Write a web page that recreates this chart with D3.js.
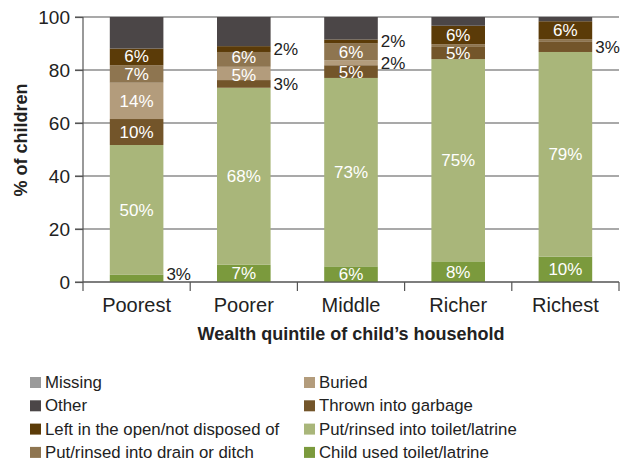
<!DOCTYPE html>
<html>
<head>
<meta charset="utf-8">
<script src="https://cdn.jsdelivr.net/npm/d3@7"></script>
<style>
  body { margin: 0; background: #fff; }
  svg text { font-family: "Liberation Sans", Arial, sans-serif; }
  .grid line { stroke: #555; stroke-width: 1.2; }
  .axis path, .axis line { stroke: #555; stroke-width: 1.2; }
  .axis text { fill: #222; font-size: 19px; }
  .axis.x text { font-size: 20px; }
</style>
</head>
<body>
<div id="chart"></div>
<script>
// quintiles on the x axis
const quintiles = ["Poorest", "Poorer", "Middle", "Richer", "Richest"];

// series, bottom of the stack first
const seriesNames = [
  "Child used toilet/latrine",
  "Put/rinsed into toilet/latrine",
  "Thrown into garbage",
  "Buried",
  "Put/rinsed into drain or ditch",
  "Left in the open/not disposed of",
  "Other",
  "Missing"
];
const seriesColors = ["#7b9a3d", "#a9b67a", "#73552a", "#b39c7c", "#8e7550", "#5b3b08", "#4b4647", "#9a9a9a"];

// values (% of children), one array per series
const childUsed   = [2.7, 6.5, 5.9, 7.8, 9.6];
const intoToilet  = [49.0, 66.8, 71.1, 76.3, 77.2];
const garbage     = [9.8, 2.9, 4.8, 4.6, 3.8];
const buried      = [13.7, 5.0, 1.9, 0, 0];
const drain       = [6.6, 5.6, 6.3, 1.0, 1.0];
const leftOpen    = [6.3, 2.2, 1.5, 7.0, 6.8];
const other       = [11.9, 11.0, 8.5, 3.3, 1.6];
const missing     = [0, 0, 0, 0, 0];

// printed labels (null = no label)
const childUsedLbl  = ["3%", "7%", "6%", "8%", "10%"];
const intoToiletLbl = ["50%", "68%", "73%", "75%", "79%"];
const garbageLbl    = ["10%", "3%", "5%", "5%", "3%"];
const buriedLbl     = ["14%", "5%", "2%", null, null];
const drainLbl      = ["7%", "6%", "6%", null, null];
const leftOpenLbl   = ["6%", "2%", "2%", "6%", "6%"];

const yTicks = [0, 20, 40, 60, 80, 100];

const seriesValues = [childUsed, intoToilet, garbage, buried, drain, leftOpen, other, missing];
const seriesLabels = [childUsedLbl, intoToiletLbl, garbageLbl, buriedLbl, drainLbl, leftOpenLbl, null, null];

const W = 627, H = 462;
const margin = { left: 83, top: 17, right: 8 };
const plotW = 619 - margin.left;
const plotH = 265;

const svg = d3.select("#chart").append("svg").attr("width", W).attr("height", H);
const g = svg.append("g").attr("transform", `translate(${margin.left},${margin.top})`);

const x = d3.scaleBand().domain(quintiles).range([0, plotW]).paddingInner(0.5).paddingOuter(0.25);
const y = d3.scaleLinear().domain([0, 100]).range([plotH, 0]);

// rows for the stack
const rows = quintiles.map((q, i) => {
  const r = { q };
  seriesNames.forEach((s, k) => r[s] = seriesValues[k][i]);
  return r;
});
const stacked = d3.stack().keys(seriesNames)(rows);

// grid lines
g.append("g").attr("class", "grid")
  .selectAll("line").data(yTicks).enter().append("line")
  .attr("x1", -8).attr("x2", plotW)
  .attr("y1", d => y(d)).attr("y2", d => y(d));

// y axis labels
const yAxis = d3.axisLeft(y).tickValues(yTicks).tickSize(8).tickPadding(5);
g.append("g").attr("class", "axis y").call(yAxis)
  .call(s => s.select(".domain").remove());

// bars
const layers = g.append("g").selectAll("g").data(stacked).enter().append("g")
  .attr("fill", (d, k) => seriesColors[k]);
layers.selectAll("rect").data(d => d).enter().append("rect")
  .attr("x", d => x(d.data.q))
  .attr("width", x.bandwidth())
  .attr("y", d => y(d[1]))
  .attr("height", d => y(d[0]) - y(d[1]));

// x axis line and boundary ticks
const step = x.step();
const bounds = quintiles.map(q => x(q) - step * 0.25).concat([plotW]);
const xg = g.append("g").attr("class", "axis x").attr("transform", `translate(0,${plotH})`);
xg.append("line").attr("x1", 0).attr("x2", plotW).attr("y1", 0).attr("y2", 0);
xg.selectAll("line.tk").data(bounds).enter().append("line").attr("class", "tk")
  .attr("x1", d => d).attr("x2", d => d).attr("y1", 0).attr("y2", 9);
xg.selectAll("text").data(quintiles).enter().append("text")
  .attr("x", d => x(d) + x.bandwidth() / 2)
  .attr("y", 30)
  .attr("text-anchor", "middle")
  .text(d => d);

// y axis vertical line
g.append("line").attr("class", "axis")
  .attr("x1", 0).attr("x2", 0).attr("y1", y(100)).attr("y2", plotH)
  .attr("stroke", "#555").attr("stroke-width", 1.2);

// segment labels: collect per bar, spread inside ones a little so they don't collide
const labelGap = 18;
quintiles.forEach((q, i) => {
  const items = [];
  stacked.forEach((layer, k) => {
    const lbls = seriesLabels[k];
    if (!lbls || !lbls[i]) return;
    const d = layer[i];
    const v = d[1] - d[0];
    const inside = v >= 4.5;
    let cy = (y(d[0]) + y(d[1])) / 2;
    if (!inside) cy = Math.min(cy, plotH - 8);
    if (inside && k === 0) cy = Math.min(cy, plotH - 7);
    items.push({ txt: lbls[i], cy, inside });
  });
  const ins = items.filter(d => d.inside).sort((a, b) => b.cy - a.cy);
  for (let j = 1; j < ins.length; j++) {
    const gap = ins[j - 1].cy - ins[j].cy;
    if (gap < labelGap) {
      const push = (labelGap - gap) / 2;
      ins[j - 1].cy += push;
      ins[j].cy -= push;
    }
  }
  items.forEach(it => {
    g.append("text")
      .attr("x", it.inside ? x(q) + x.bandwidth() / 2 : x(q) + x.bandwidth() + 3)
      .attr("y", it.cy)
      .attr("dy", "0.35em")
      .attr("text-anchor", it.inside ? "middle" : "start")
      .attr("fill", it.inside ? "#fff" : "#222")
      .style("font-size", "17px")
      .text(it.txt);
  });
});

// axis titles
svg.append("text")
  .attr("x", margin.left + plotW / 2)
  .attr("y", 340)
  .attr("text-anchor", "middle")
  .style("font-size", "18px").style("font-weight", "bold").attr("fill", "#222")
  .text("Wealth quintile of child\u2019s household");

svg.append("text")
  .attr("transform", "translate(27,140) rotate(-90)")
  .attr("text-anchor", "middle")
  .style("font-size", "18px").style("font-weight", "bold").attr("fill", "#222")
  .text("% of children");

// legend: two columns, top of stack first
const legendOrder = [7, 6, 5, 4, 3, 2, 1, 0];
const legend = svg.append("g");
legendOrder.forEach((k, j) => {
  const col = Math.floor(j / 4), row = j % 4;
  const lx = col === 0 ? 30 : 304;
  const by = 388 + row * 23.3;
  legend.append("rect")
    .attr("x", lx).attr("y", by - 11).attr("width", 11).attr("height", 11)
    .attr("fill", seriesColors[k]);
  legend.append("text")
    .attr("x", lx + 15).attr("y", by)
    .style("font-size", "16.8px").attr("fill", "#222")
    .text(seriesNames[k]);
});
</script>
</body>
</html>
